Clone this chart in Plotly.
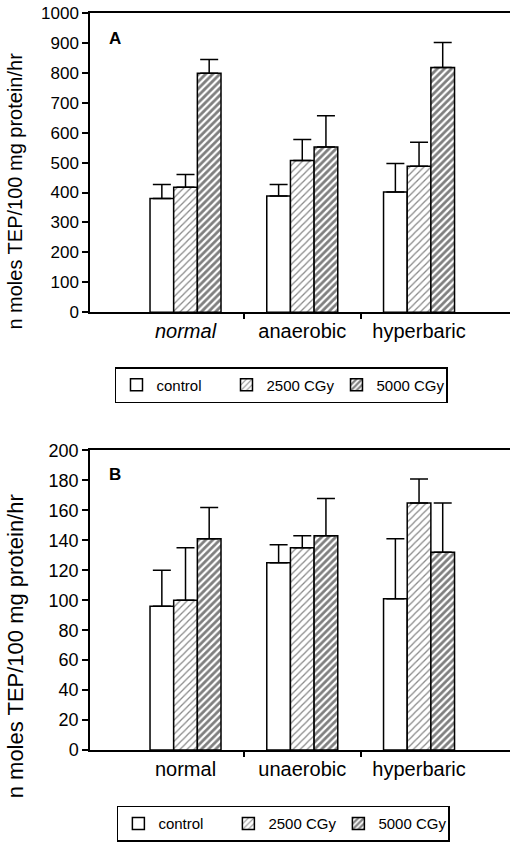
import plotly.graph_objects as go

# Panel A: TEP per 100 mg protein per hour
categories_a = ["normal", "anaerobic", "hyperbaric"]
control_a = [380, 388, 402]
control_a_err = [47, 39, 95]
cgy2500_a = [418, 507, 488]
cgy2500_a_err = [42, 70, 80]
cgy5000_a = [799, 552, 818]
cgy5000_a_err = [46, 105, 83]

# Panel B
categories_b = ["normal", "unaerobic", "hyperbaric"]
control_b = [96, 125, 101]
control_b_err = [24, 12, 40]
cgy2500_b = [100, 135, 165]
cgy2500_b_err = [35, 8, 16]
cgy5000_b = [141, 143, 132]
cgy5000_b_err = [21, 25, 33]

series_names = ["control", "2500 CGy", "5000 CGy"]
y_title = "n moles TEP/100 mg protein/hr"
y_ticks_a = list(range(0, 1001, 100))
y_ticks_b = list(range(0, 201, 20))

FONT = "Liberation Sans, Arial, Helvetica, sans-serif"
patterns = [
    dict(shape=""),
    dict(shape="/", size=5, solidity=0.25, fgcolor="#111", bgcolor="white"),
    dict(shape="/", size=5, solidity=0.55, fgcolor="black", bgcolor="white"),
]

xpos = [0, 1, 2]

fig = go.Figure()


def add_panel(vals, errs, xa, ya, legend):
    for name, v, e, pat in zip(series_names, vals, errs, patterns):
        fig.add_trace(go.Bar(
            x=xpos, y=v, name=name,
            xaxis=xa, yaxis=ya, legend=legend,
            marker=dict(color="white", pattern=pat,
                        line=dict(color="black", width=1.5)),
            error_y=dict(type="data", symmetric=False, array=e,
                         arrayminus=[0] * len(e), width=9,
                         thickness=1.5, color="black"),
        ))


add_panel([control_a, cgy2500_a, cgy5000_a],
          [control_a_err, cgy2500_a_err, cgy5000_a_err], "x", "y", "legend")
add_panel([control_b, cgy2500_b, cgy5000_b],
          [control_b_err, cgy2500_b_err, cgy5000_b_err], "x2", "y2", "legend2")

ticktext_a = ["<i>%s</i>" % categories_a[0]] + categories_a[1:]


def xaxis(ticktext, anchor):
    return dict(
        range=[-0.818, 2.779], domain=[0, 1], anchor=anchor,
        tickmode="array", tickvals=xpos, ticktext=ticktext,
        ticks="outside", ticklen=0, showgrid=False, zeroline=False,
        showline=True, linecolor="black", linewidth=1.5, mirror=True,
        tickfont=dict(family=FONT, size=20, color="black"),
        minor=dict(tickmode="array", tickvals=[0.5, 1.5], ticks="outside",
                   ticklen=5, tickcolor="black", tickwidth=1.5),
    )


def yaxis(rng, ticks, domain, anchor, size):
    return dict(
        range=rng, domain=domain, anchor=anchor,
        tickmode="array", tickvals=ticks,
        ticks="outside", ticklen=6, tickwidth=1.5, tickcolor="black",
        showgrid=False, zeroline=False,
        showline=True, linecolor="black", linewidth=1.5,
        tickfont=dict(family=FONT, size=size, color="black"),
    )


legend_style = dict(
    orientation="h", xanchor="left", yanchor="top",
    bordercolor="black", borderwidth=1.5, bgcolor="white",
    font=dict(family=FONT, size=15, color="black"),
    traceorder="normal", entrywidthmode="pixels", entrywidth=65,
)

fig.update_layout(
    width=511, height=843,
    margin=dict(l=90, r=1, t=13, b=91),
    paper_bgcolor="white", plot_bgcolor="white",
    barmode="group", bargap=0.392, bargroupgap=0,
    font=dict(family=FONT, color="black"),
    xaxis=xaxis(ticktext_a, "y"),
    yaxis=yaxis([0, 1000], y_ticks_a, [0.594, 1.0], "x", 17),
    xaxis2=xaxis(categories_b, "y2"),
    yaxis2=yaxis([0, 200], y_ticks_b, [0.0, 0.4064], "x2", 18),
    legend=dict(x=0.0595, y=0.5196, **legend_style),
    legend2=dict(x=0.064, y=-0.0758, **legend_style),
    annotations=[
        dict(text="<b>A</b>", x=0.0595, y=0.9648, xref="paper", yref="paper",
             showarrow=False, xanchor="center", yanchor="middle",
             font=dict(family=FONT, size=17, color="black")),
        dict(text="<b>B</b>", x=0.0595, y=0.3735, xref="paper", yref="paper",
             showarrow=False, xanchor="center", yanchor="middle",
             font=dict(family=FONT, size=17, color="black")),
        dict(text=y_title, textangle=-90, x=-0.1786, y=0.759,
             xref="paper", yref="paper", showarrow=False,
             xanchor="center", yanchor="middle",
             font=dict(family=FONT, size=20, color="black")),
        dict(text=y_title, textangle=-90, x=-0.1786, y=0.1407,
             xref="paper", yref="paper", showarrow=False,
             xanchor="center", yanchor="middle",
             font=dict(family=FONT, size=22, color="black")),
    ],
)

fig.write_html("out.html")
